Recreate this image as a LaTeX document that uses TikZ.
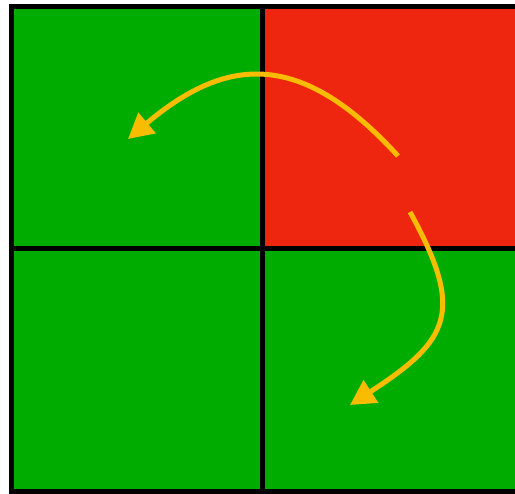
\documentclass[tikz,border=0pt]{standalone}
\usetikzlibrary{arrows.meta, positioning}
\definecolor{cellgreen}{RGB}{0,172,0}
\definecolor{cellred}{RGB}{238,38,16}
\definecolor{swaporange}{RGB}{250,188,0}

\begin{document}
\begin{tikzpicture}[
    x=1pt, y=-1pt,
    cell/.style={draw=black, line width=5pt, minimum height=242.5pt,
                 minimum width=251pt, inner sep=0pt, outer sep=0pt},
    widecell/.style={cell, minimum width=255pt},
    arr/.style={-{Triangle[length=25pt, width=26pt]}, line width=5pt,
                draw=swaporange},
  ]
    \useasboundingbox (0,0) rectangle (515,494);
    \clip (0,0) rectangle (515,494);
    \node[cell, fill=cellgreen] (topleft) at (137,127.75) {};
    \node[widecell, fill=cellred] (topright) at (390,127.75) {};
    \node[cell, fill=cellgreen] (botleft) at (137,370.25) {};
    \node[widecell, fill=cellgreen] (botright) at (390,370.25) {};

    \coordinate (upstart) at (398,156);
    \coordinate (upend) at (128,139);
    \coordinate (downstart) at (410,212);
    \coordinate (downend) at (350,405);

    \draw[arr] (upstart) .. controls (298.6,46.7) and (224,58.1) .. (upend);
    \draw[arr] (downstart) .. controls (465,312) and (450,340) .. (downend);
  \end{tikzpicture}
\end{document}
